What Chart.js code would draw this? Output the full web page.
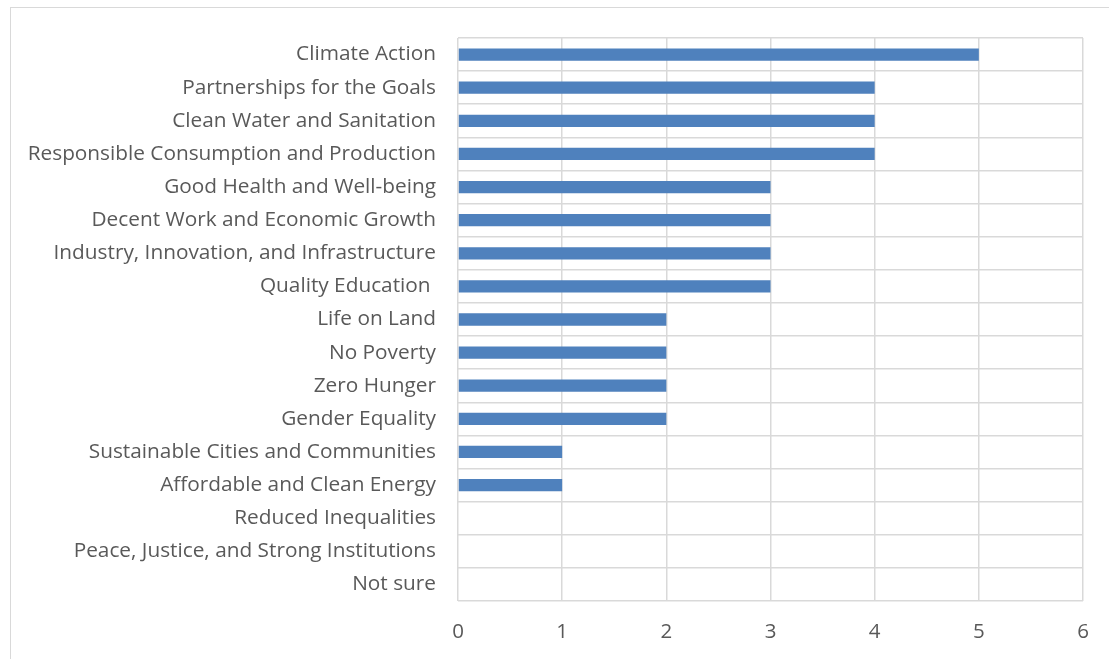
<!DOCTYPE html>
<html>
<head>
<meta charset="utf-8">
<script src="https://cdn.jsdelivr.net/npm/chart.js@4.4.1/dist/chart.umd.min.js"></script>
<style>
  html, body { margin: 0; padding: 0; background: #fff; }
  #wrap { position: relative; width: 1109px; height: 659px; overflow: hidden; }
  #frame { position: absolute; left: 10px; top: 7px; width: 1200px; height: 700px; border: 1.5px solid #d9d9d9; }
  #chartGoals { position: absolute; left: 0; top: 0; }
</style>
</head>
<body>
<div id="wrap">
  <div id="frame"></div>
  <canvas id="chartGoals" width="1109" height="659"></canvas>
</div>
<script>
  /* Objetivos, de arriba hacia abajo */
  const goals = [
    'Climate Action',
    'Partnerships for the Goals',
    'Clean Water and Sanitation',
    'Responsible Consumption and Production',
    'Good Health and Well-being',
    'Decent Work and Economic Growth',
    'Industry, Innovation, and Infrastructure',
    'Quality Education ',
    'Life on Land',
    'No Poverty',
    'Zero Hunger',
    'Gender Equality',
    'Sustainable Cities and Communities',
    'Affordable and Clean Energy',
    'Reduced Inequalities',
    'Peace, Justice, and Strong Institutions',
    'Not sure',
  ];
  const counts = [5, 4, 4, 4, 3, 3, 3, 3, 2, 2, 2, 2, 1, 1, 0, 0, 0];
  const xMin = 0;
  const xMax = 6;

  const gridColor = '#d9d9d9';
  const textColor = '#595959';

  const cmc = document.getElementById('chartGoals');
  const chartGoals = new Chart(cmc, {
    type: 'bar',
    data: {
      labels: goals,
      datasets: [
        {
          data: counts,
          backgroundColor: '#4f81bd',
          borderWidth: 0,
          categoryPercentage: 1,
          barPercentage: 0.37,
        },
      ],
    },
    options: {
      indexAxis: 'y',
      responsive: false,
      animation: false,
      layout: {
        padding: { left: 0, top: 38, right: 26, bottom: 0 },
      },
      scales: {
        x: {
          min: xMin,
          max: xMax,
          ticks: {
            stepSize: 1,
            color: textColor,
            padding: 19,
            font: { family: 'Open Sans', size: 20.5 },
          },
          grid: { color: gridColor, lineWidth: 1.5, drawTicks: false },
          border: { display: false },
          afterFit: (scale) => { scale.height = 58; },
        },
        y: {
          ticks: {
            color: textColor,
            padding: 22,
            font: { family: 'Open Sans', size: 20.8 },
          },
          grid: { color: gridColor, lineWidth: 1.5, drawTicks: false },
          border: { display: false },
          afterFit: (scale) => { scale.width = 458; },
        },
      },
      plugins: {
        legend: { display: false },
        tooltip: { enabled: false },
      },
    },
  });
</script>
</body>
</html>
